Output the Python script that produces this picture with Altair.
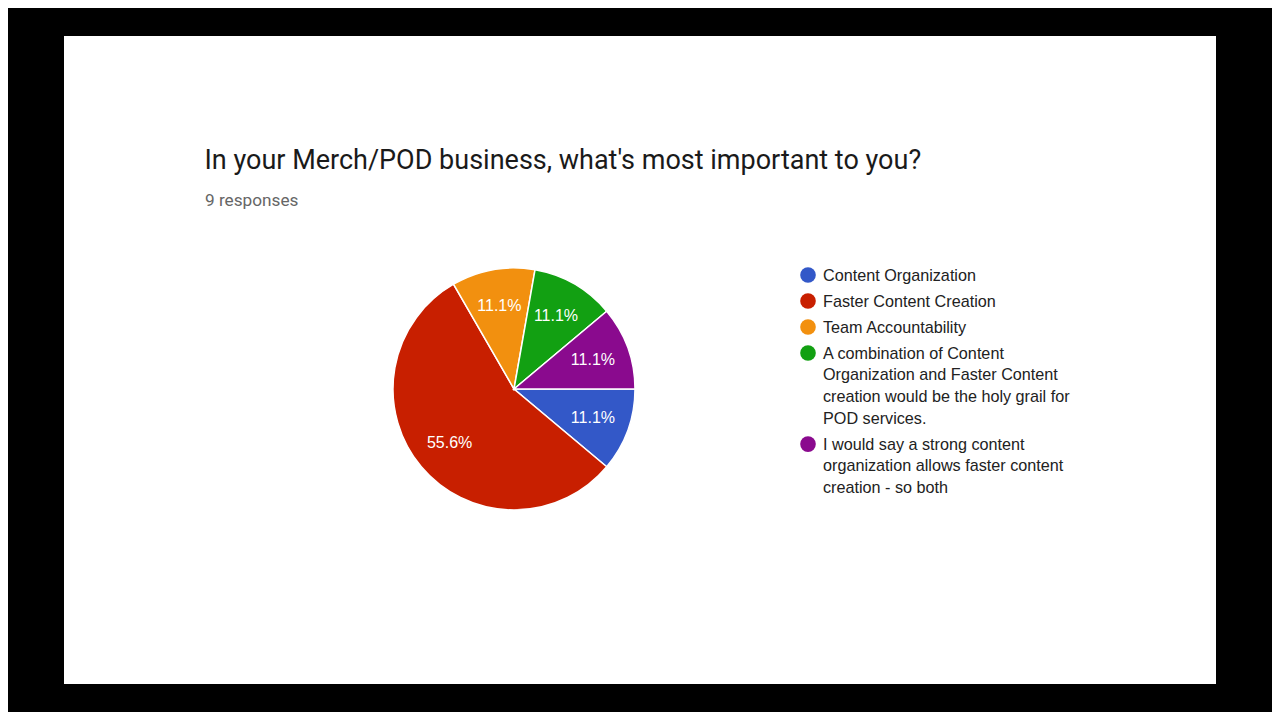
import math
import altair as alt
import pandas as pd

# ---- data ----
categories = [
    "Content Organization",
    "Faster Content Creation",
    "Team Accountability",
    "A combination of Content Organization and Faster Content creation would be the holy grail for POD services.",
    "I would say a strong content organization allows faster content creation - so both",
]
counts = [1, 5, 1, 1, 1]
colors = ["#3358c8", "#c81f00", "#f2900f", "#12a012", "#8a0a8e"]
legend_labels = [
    "Content Organization",
    "Faster Content Creation",
    "Team Accountability",
    "A combination of Content\nOrganization and Faster Content\ncreation would be the holy grail for\nPOD services.",
    "I would say a strong content\norganization allows faster content\ncreation - so both",
]
title_text = "In your Merch/POD business, what's most important to you?"
subtitle_text = "9 responses"

pie_df = pd.DataFrame({"category": categories, "count": counts, "idx": list(range(len(categories)))})
leg_df = pd.DataFrame({"category": categories, "label": legend_labels, "idx": list(range(len(categories)))})

color_scale = alt.Scale(domain=categories, range=colors)
theta_scale = alt.Scale(range=[math.pi / 2, math.pi / 2 + 2 * math.pi])

CX, CY = 506, 381

panel = alt.Chart(alt.Data(values=[{"a": 1}])).mark_rect(color="white").encode(
    x=alt.value(56), x2=alt.value(1208), y=alt.value(28), y2=alt.value(676)
)

title = alt.Chart(alt.Data(values=[{"t": title_text}])).mark_text(
    align="left", baseline="alphabetic", font="Roboto", fontSize=27, color="#1a1a1a"
).encode(x=alt.value(196.5), y=alt.value(160.5), text="t:N")

subtitle = alt.Chart(alt.Data(values=[{"t": subtitle_text}])).mark_text(
    align="left", baseline="alphabetic", font="Roboto", fontSize=17.2, color="#666666"
).encode(x=alt.value(197), y=alt.value(197.5), text="t:N")

arcs = alt.Chart(pie_df).mark_arc(outerRadius=121, stroke="white", strokeWidth=1.5).encode(
    theta=alt.Theta("count:Q", stack=True, scale=theta_scale),
    color=alt.Color("category:N", scale=color_scale, legend=None),
    order=alt.Order("idx:Q"),
    x=alt.value(CX),
    y=alt.value(CY),
)

labels = alt.Chart(pie_df).transform_joinaggregate(
    total="sum(count)"
).transform_calculate(
    pct="format(datum.count / datum.total, '.1%')"
).mark_text(
    radius=84, font="Liberation Sans", fontSize=16, color="white", baseline="middle", align="center"
).encode(
    theta=alt.Theta("count:Q", stack=True, scale=theta_scale),
    order=alt.Order("idx:Q"),
    text="pct:N",
    x=alt.value(CX),
    y=alt.value(CY),
)

leg_base = alt.Chart(leg_df).transform_calculate(
    extra="length(split(datum.label, '\\n')) - 1"
).transform_window(
    cum="sum(extra)", sort=[alt.SortField("idx")]
).transform_calculate(
    ly="272.7 + datum.idx * 26 + (datum.cum - datum.extra) * 21.7",
).transform_calculate(
    cy="datum.ly - 5.7",
)

leg_points = leg_base.mark_circle(size=245, opacity=1).encode(
    x=alt.value(800),
    y=alt.Y("cy:Q", scale=None, axis=None),
    color=alt.Color("category:N", scale=color_scale, legend=None),
)

leg_text = leg_base.mark_text(
    align="left", baseline="alphabetic", lineBreak="\n", lineHeight=21.7,
    font="Liberation Sans", fontSize=16.2, color="#222222"
).encode(
    x=alt.value(815),
    y=alt.Y("ly:Q", scale=None, axis=None),
    text="label:N",
)

chart = alt.layer(panel, title, subtitle, arcs, labels, leg_points, leg_text).properties(
    width=1264, height=704, background="black", padding=0,
    autosize=alt.AutoSizeParams(type="none"),
).configure_view(strokeWidth=0)

chart.save("out.html", embed_options={"renderer": "svg", "actions": False})
